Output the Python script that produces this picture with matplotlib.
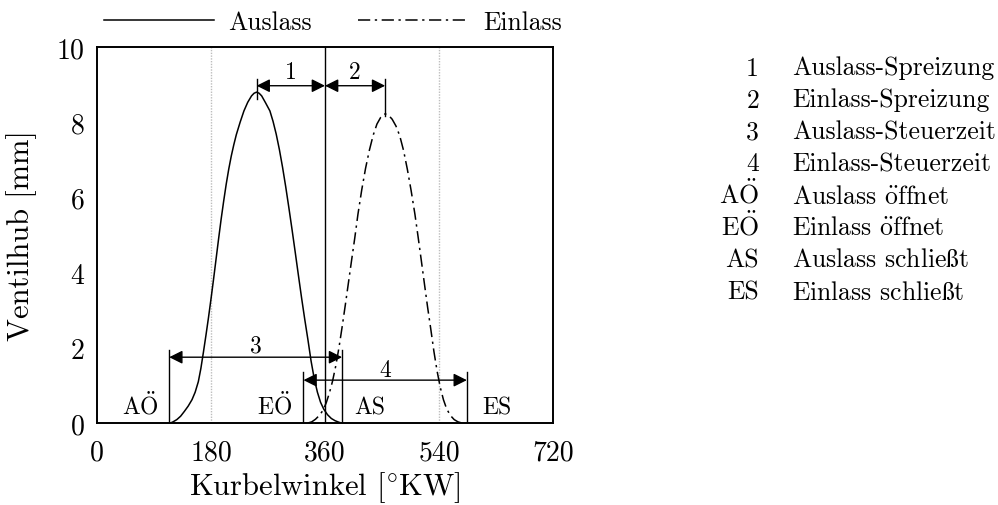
import matplotlib
matplotlib.use("Agg")
import matplotlib.pyplot as plt
from matplotlib.lines import Line2D

plt.rcParams["font.family"] = ["cmr10", "DejaVu Serif"]
plt.rcParams["mathtext.fontset"] = "cm"
plt.rcParams["axes.formatter.use_mathtext"] = True

# Valve lift of the exhaust valve (Auslass) over crank angle
exhaust_deg = [116, 120, 126, 132, 138, 144, 150, 155, 160, 164, 168, 172, 176, 180,
               184, 188, 192, 196, 200, 204, 208, 212, 216, 220, 226, 232, 238, 244,
               248, 252, 256, 260, 266, 273, 278, 283, 288, 293, 298, 303, 308, 313,
               318, 323, 328, 333, 338, 343, 348, 353, 358, 364, 370, 376, 382, 386]
exhaust_lift = [0.0, 0.03, 0.09, 0.18, 0.31, 0.45, 0.62, 0.82, 1.1, 1.45, 1.88, 2.33,
                2.8, 3.3, 3.82, 4.36, 4.9, 5.42, 5.9, 6.35, 6.75, 7.1, 7.4, 7.67, 8.0,
                8.3, 8.53, 8.7, 8.77, 8.8, 8.77, 8.7, 8.52, 8.3, 8.02, 7.68, 7.27, 6.8,
                6.28, 5.72, 5.14, 4.54, 3.93, 3.33, 2.76, 2.22, 1.65, 1.18, 0.82, 0.55,
                0.37, 0.22, 0.12, 0.06, 0.02, 0.0]

# Valve lift of the intake valve (Einlass) over crank angle
intake_deg = [333, 339, 345, 351, 357, 362, 367, 372, 377, 382, 387, 392, 397, 402,
              407, 412, 418, 424, 430, 436, 442, 448, 452, 455, 460, 466, 472, 478,
              484, 490, 496, 502, 507, 512, 517, 522, 527, 532, 537, 542, 547, 552,
              558, 564, 570, 576]
intake_lift = [0.0, 0.03, 0.1, 0.2, 0.34, 0.54, 0.8, 1.12, 1.52, 2.0, 2.55, 3.13,
               3.73, 4.33, 4.92, 5.55, 6.2, 6.77, 7.25, 7.65, 7.95, 8.13, 8.2, 8.22,
               8.19, 8.08, 7.9, 7.64, 7.25, 6.75, 6.18, 5.55, 4.95, 4.33, 3.7, 3.08,
               2.5, 1.9, 1.38, 0.95, 0.62, 0.38, 0.2, 0.09, 0.03, 0.0]

# Characteristic crank angles
tdc_deg = 360
exhaust_peak_deg = 252
intake_peak_deg = 455
exhaust_opens_deg = 114    # AÖ
exhaust_closes_deg = 387   # AS
intake_opens_deg = 326     # EÖ
intake_closes_deg = 584    # ES

x_ticks = [0, 180, 360, 540, 720]
y_ticks = [0, 2, 4, 6, 8, 10]

O_UML = r"$\ddot{\mathrm{O}}$"
o_uml = r"$\ddot{\mathrm{o}}$"
sz = r"$\mathrm{ß}$"

key_symbols = ["1", "2", "3", "4", "A" + O_UML, "E" + O_UML, "AS", "ES"]
key_texts = ["Auslass-Spreizung", "Einlass-Spreizung", "Auslass-Steuerzeit",
             "Einlass-Steuerzeit", "Auslass " + o_uml + "ffnet",
             "Einlass " + o_uml + "ffnet", "Auslass schlie" + sz + "t",
             "Einlass schlie" + sz + "t"]

W, H = 998, 506
fig = plt.figure(figsize=(W / 100, H / 100), dpi=100)
ax = fig.add_axes([97 / W, 1 - 424 / H, 456 / W, 376 / H])

dashdot = (0, (8, 3, 1.5, 3))
lw = 1.1

# reference lines at BDC and TDC
for xv in (180, 540):
    ax.axvline(xv, color="#bdbdbd", lw=1.0, ls=(0, (1, 1)), zorder=1)
ax.axvline(tdc_deg, color="black", lw=1.0, zorder=2)

ax.plot(exhaust_deg, exhaust_lift, color="black", lw=lw, zorder=3)
ax.plot(intake_deg, intake_lift, color="black", lw=lw, ls=dashdot, zorder=3)

arrow_kw = dict(arrowstyle="<|-|>", color="black", lw=1.0, shrinkA=0, shrinkB=0,
                mutation_scale=20)


def dim_arrow(x0, x1, y, label, ly):
    ax.annotate("", xy=(x1, y), xytext=(x0, y), arrowprops=arrow_kw, zorder=4)
    ax.text((x0 + x1) / 2, ly, label, ha="center", va="center", fontsize=17)


# spreads relative to TDC
ax.plot([exhaust_peak_deg, exhaust_peak_deg], [8.62, 9.15], color="black", lw=1.0)
ax.plot([intake_peak_deg, intake_peak_deg], [8.17, 9.15], color="black", lw=1.0)
dim_arrow(exhaust_peak_deg, tdc_deg, 8.97, "1", 9.33)
dim_arrow(tdc_deg, intake_peak_deg, 8.97, "2", 9.33)

# valve timing durations
for xv in (exhaust_opens_deg, exhaust_closes_deg):
    ax.plot([xv, xv], [0, 1.94], color="black", lw=1.0)
for xv in (intake_opens_deg, intake_closes_deg):
    ax.plot([xv, xv], [0, 1.36], color="black", lw=1.0)
dim_arrow(exhaust_opens_deg, exhaust_closes_deg, 1.75, "3", 2.05)
dim_arrow(intake_opens_deg, intake_closes_deg, 1.14, "4", 1.42)

for xv, lab in ((68, "A" + O_UML), (281, "E" + O_UML), (431, "AS"), (631, "ES")):
    ax.text(xv, 0.24, lab, ha="center", va="baseline", fontsize=17)

ax.set_xlim(0, 720)
ax.set_ylim(0, 10)
ax.set_xticks(x_ticks)
ax.set_xticklabels([str(v) for v in x_ticks])
ax.set_yticks(y_ticks)
ax.set_yticklabels([str(v) for v in y_ticks])
ax.tick_params(length=0, labelsize=20)
ax.tick_params(axis="x", pad=12)
ax.tick_params(axis="y", pad=9)
for s in ax.spines.values():
    s.set_linewidth(1.4)

ax.set_xlabel(r"Kurbelwinkel [$^{\circ}$KW]", fontsize=22, va="center")
ax.xaxis.set_label_coords(0.5, (424 - 488) / 376)
ax.set_ylabel("Ventilhub [mm]", fontsize=22, va="center")
ax.yaxis.set_label_coords((22 - 97) / 456, 0.5)

handles = [Line2D([], [], color="black", lw=lw),
           Line2D([], [], color="black", lw=lw, ls=dashdot)]
fig.legend(handles, ["Auslass", "Einlass"], loc="center left",
           bbox_to_anchor=(104 / W, 1 - 23 / H), ncol=2, frameon=False,
           fontsize=18.5, handlelength=4.3, handletextpad=0.55, columnspacing=1.8,
           borderpad=0, borderaxespad=0)

row_y = [68, 100, 132, 164, 196, 228, 260, 292]
for sym, txt, yp in zip(key_symbols, key_texts, row_y):
    base = 1 - (yp + 7.5) / H
    fig.text(759 / W, base, sym, ha="right", va="baseline", fontsize=18.5)
    fig.text(792 / W, base, txt, ha="left", va="baseline", fontsize=18.5)

fig.savefig("out.png", dpi=100)
